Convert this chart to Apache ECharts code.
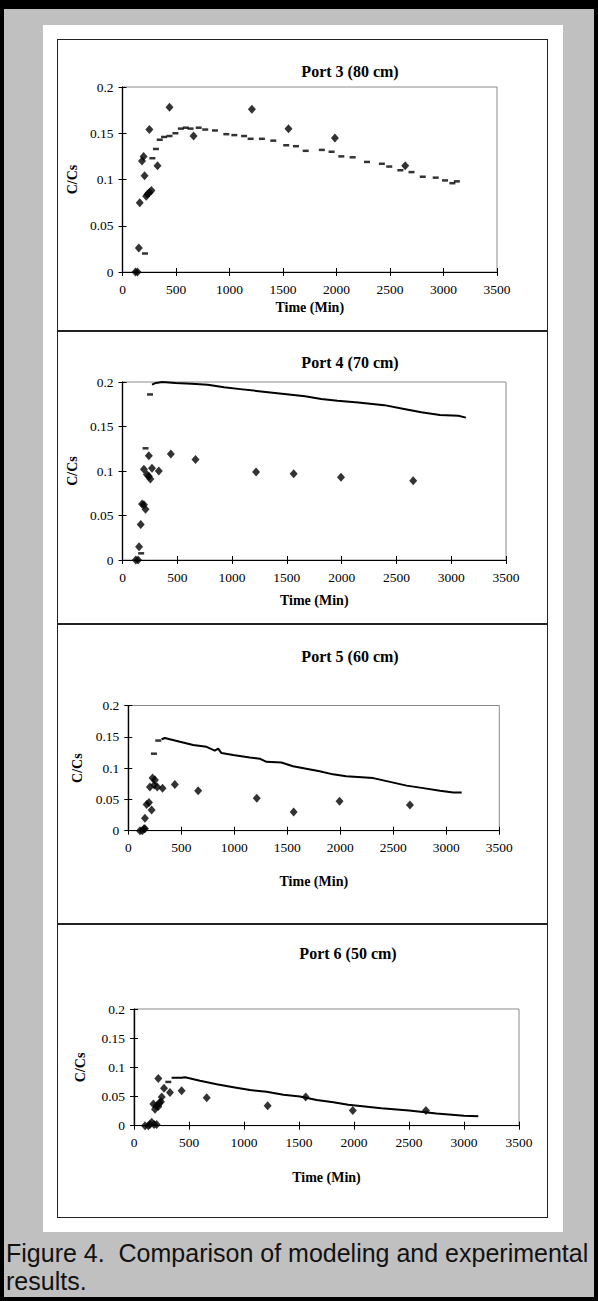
<!DOCTYPE html>
<html>
<head>
<meta charset="utf-8">
<script src="https://cdn.jsdelivr.net/npm/echarts@6/dist/echarts.min.js"></script>
<style>
  body { margin: 0; }
  #page { position: relative; width: 598px; height: 1301px; background: #c0c0c0; overflow: hidden; }
  #frame { position: absolute; left: 0; top: 0; width: 598px; height: 1301px; box-sizing: border-box;
           border: 4px solid #000; border-top-width: 9px; pointer-events: none; }
  #panel { position: absolute; left: 43px; top: 25px; width: 520px; height: 1207px; background: #fff; }
  #box { position: absolute; left: 57px; top: 39px; width: 491px; height: 1179px; box-sizing: border-box;
         border: 1.5px solid #222; }
  .divider { position: absolute; left: 57px; width: 491px; height: 2px; background: #222; }
  .chart { position: absolute; left: 57px; width: 491px; }
  #caption { position: absolute; left: 6px; top: 1239px; font: 25px/28px "Liberation Sans", Arial, sans-serif;
             color: #111; white-space: nowrap; }
</style>
</head>
<body>
<div id="page">
  <div id="panel"></div>
  <div id="box"></div>
  <div class="divider" style="top:330px"></div>
  <div class="divider" style="top:623px"></div>
  <div class="divider" style="top:923px"></div>
  <div class="chart" id="chart-p3" style="top:39px;height:292px"></div>
  <div class="chart" id="chart-p4" style="top:331px;height:293px"></div>
  <div class="chart" id="chart-p5" style="top:624px;height:300px"></div>
  <div class="chart" id="chart-p6" style="top:924px;height:294px"></div>
  <div id="caption">Figure 4.&nbsp; Comparison of modeling and experimental<br>results.</div>
  <div id="frame"></div>
</div>
<script>
// axis ranges
var xMax = 3500, xStep = 500;
var yMax = 0.2, yStep = 0.05;

// Port 3 (80 cm): measured points and model dashes
var port3Measured = [[121,0],[140,0],[152,0.026],[161,0.075],[182,0.120],[197,0.125],[206,0.104],[221,0.082],
  [233,0.084],[251,0.086],[270,0.088],[251,0.154],[327,0.115],[439,0.178],[664,0.147],[1209,0.176],
  [1551,0.155],[1985,0.145],[2642,0.115]];
var port3ModelDash = [[210,0.020],[279,0.123],[312,0.133],[348,0.143],[388,0.146],[439,0.147],[494,0.150],
  [545,0.155],[591,0.156],[636,0.155],[712,0.156],[773,0.154],[864,0.153],[970,0.149],[1045,0.148],
  [1136,0.147],[1197,0.144],[1303,0.144],[1409,0.142],[1530,0.137],[1621,0.136],[1712,0.131],[1863,0.132],
  [1954,0.130],[2045,0.125],[2151,0.124],[2285,0.119],[2424,0.117],[2493,0.114],[2597,0.110],[2701,0.108],
  [2806,0.103],[2927,0.102],[3014,0.099],[3083,0.096],[3125,0.098]];
var port3ModelLine = [];

// Port 4 (70 cm)
var port4Measured = [[121,0],[142,0],[151,0.015],[166,0.040],[178,0.063],[195,0.062],[210,0.057],[195,0.102],
  [222,0.096],[240,0.094],[254,0.091],[240,0.117],[269,0.103],[331,0.100],[441,0.119],[666,0.113],
  [1219,0.099],[1562,0.097],[1994,0.093],[2653,0.089]];
var port4ModelDash = [[170,0.0075],[210,0.1255],[251,0.186]];
var port4ModelLine = [[269,0.197],[305,0.199],[364,0.200],[482,0.199],[630,0.198],[778,0.197],[926,0.194],
  [1074,0.192],[1222,0.190],[1370,0.188],[1518,0.186],[1666,0.184],[1814,0.181],[1962,0.179],[2151,0.177],
  [2389,0.174],[2558,0.170],[2727,0.166],[2897,0.163],[3066,0.162],[3134,0.160]];

// Port 5 (60 cm)
var port5Measured = [[110,0],[132,0],[148,0.003],[157,0.003],[157,0.020],[173,0.042],[195,0.045],[220,0.033],
  [204,0.070],[229,0.084],[251,0.081],[245,0.073],[273,0.070],[323,0.068],[439,0.074],[659,0.064],
  [1212,0.052],[1560,0.030],[1993,0.047],[2657,0.041]];
var port5ModelDash = [[242,0.123],[283,0.144]];
var port5ModelLine = [[314,0.146],[345,0.148],[392,0.146],[487,0.142],[612,0.137],[738,0.134],[816,0.128],
  [848,0.131],[879,0.124],[989,0.121],[1146,0.117],[1240,0.115],[1303,0.110],[1444,0.109],[1554,0.103],
  [1679,0.099],[1805,0.095],[1931,0.090],[2056,0.087],[2311,0.084],[2469,0.078],[2626,0.072],[2783,0.068],
  [2941,0.064],[3066,0.061],[3145,0.061]];

// Port 6 (50 cm)
var port6Measured = [[100,0],[130,0],[145,0.002],[161,0.006],[182,0.002],[206,0.002],[176,0.037],[191,0.028],
  [206,0.034],[221,0.033],[230,0.039],[245,0.041],[221,0.081],[252,0.049],[273,0.064],[327,0.057],
  [433,0.060],[661,0.048],[1215,0.034],[1561,0.049],[1989,0.026],[2654,0.026]];
var port6ModelDash = [[312,0.075]];
var port6ModelLine = [[342,0.082],[433,0.082],[464,0.083],[600,0.077],[752,0.071],[903,0.066],[1055,0.061],
  [1206,0.058],[1358,0.053],[1509,0.050],[1661,0.044],[1812,0.040],[1948,0.036],[2249,0.030],[2500,0.026],
  [2750,0.021],[3000,0.017],[3130,0.016]];

var serif = '"Liberation Serif", "Times New Roman", serif';
var plain = function(v) { return String(v); };

function drawPort(id, title, cfg, measured, modelDash, modelLine) {
  var chart = echarts.init(document.getElementById(id), null, { renderer: 'svg' });
  var g = cfg.grid;
  var xBase = {
    type: 'value', min: 0, max: xMax, interval: xStep, gridIndex: 0,
    splitLine: { show: false },
    axisLine: { lineStyle: { color: '#000', width: 1.2 } }
  };
  var yBase = {
    type: 'value', min: 0, max: yMax, interval: yStep, gridIndex: 0,
    splitLine: { show: false },
    axisLine: { lineStyle: { color: '#000', width: 1.2 } }
  };
  chart.setOption({
    animation: false,
    title: {
      text: title, left: cfg.titleX, top: cfg.titleY, textAlign: 'center',
      textStyle: { fontFamily: serif, fontWeight: 'bold', fontSize: 16, color: '#000' }
    },
    grid: { left: g[0], top: g[1], width: g[2], height: g[3], show: true,
            borderColor: '#8a8a8a', borderWidth: 1, backgroundColor: 'transparent' },
    xAxis: [
      Object.assign({}, xBase, {
        name: 'Time (Min)', nameLocation: 'middle', nameGap: cfg.xNameGap,
        nameTextStyle: { fontFamily: serif, fontWeight: 'bold', fontSize: 14, color: '#000' },
        axisTick: { length: 4, lineStyle: { color: '#000' } },
        axisLabel: { fontFamily: serif, fontSize: 13.5, color: '#000', margin: 10, formatter: plain }
      }),
      Object.assign({}, xBase, {
        position: 'bottom',
        axisTick: { inside: true, length: 4, lineStyle: { color: '#000' } },
        axisLabel: { show: false }
      })
    ],
    yAxis: [
      Object.assign({}, yBase, {
        name: 'C/Cs', nameLocation: 'middle', nameGap: cfg.yNameGap, nameRotate: 90,
        nameTextStyle: { fontFamily: serif, fontWeight: 'bold', fontSize: 14, color: '#000' },
        axisTick: { length: 4, lineStyle: { color: '#000' } },
        axisLabel: { fontFamily: serif, fontSize: 13.5, color: '#000', margin: 9, formatter: plain }
      }),
      Object.assign({}, yBase, {
        position: 'left',
        axisTick: { inside: true, length: 4, lineStyle: { color: '#000' } },
        axisLabel: { show: false }
      })
    ],
    series: [
      {
        type: 'line', data: modelLine, showSymbol: false, symbol: 'none',
        lineStyle: { color: '#000', width: 2 }
      },
      {
        type: 'scatter', data: modelDash, symbol: 'rect', symbolSize: [6, 2.5],
        itemStyle: { color: '#000' }
      },
      {
        type: 'scatter', data: measured, symbol: 'diamond', symbolSize: [8, 9],
        itemStyle: { color: '#000' }
      }
    ]
  });
  window.addEventListener('resize', function() { chart.resize(); });
}

drawPort('chart-p3', 'Port 3 (80 cm)',
  { grid: [55, 48, 385, 185], titleX: 288, titleY: 19, xNameGap: 27, yNameGap: 27 },
  port3Measured, port3ModelDash, port3ModelLine);
drawPort('chart-p4', 'Port 4 (70 cm)',
  { grid: [55.5, 51, 393.5, 178], titleX: 288, titleY: 18, xNameGap: 33, yNameGap: 27 },
  port4Measured, port4ModelDash, port4ModelLine);
drawPort('chart-p5', 'Port 5 (60 cm)',
  { grid: [71.3, 81.5, 371, 125.2], titleX: 288, titleY: 19, xNameGap: 44, yNameGap: 43 },
  port5Measured, port5ModelDash, port5ModelLine);
drawPort('chart-p6', 'Port 6 (50 cm)',
  { grid: [77, 85, 385, 116.7], titleX: 286, titleY: 16, xNameGap: 45, yNameGap: 47 },
  port6Measured, port6ModelDash, port6ModelLine);
</script>
</body>
</html>
